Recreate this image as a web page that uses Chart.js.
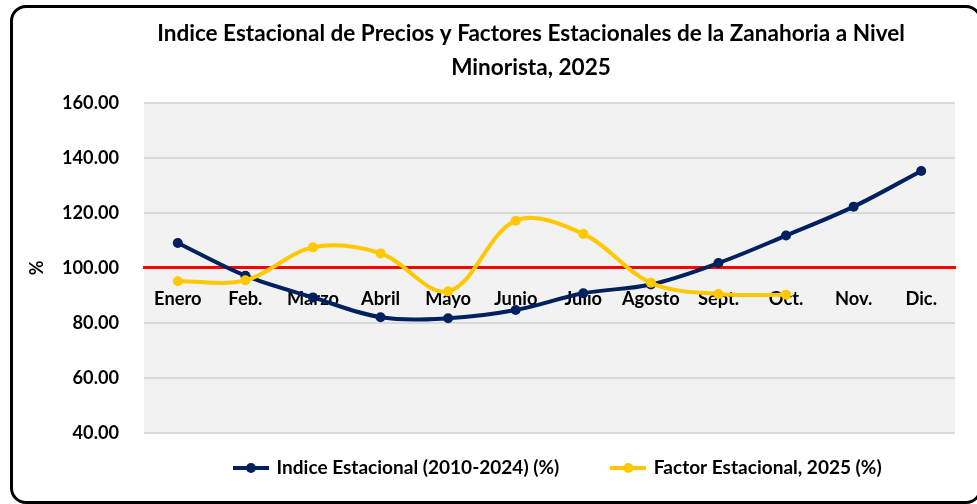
<!DOCTYPE html>
<html>
<head>
<meta charset="utf-8">
<script src="https://cdn.jsdelivr.net/npm/chart.js@4/dist/chart.umd.min.js"></script>
<style>
  html, body { margin: 0; padding: 0; background: #ffffff; }
  #wrap { position: relative; width: 977px; height: 504px; overflow: hidden; }
  #frame { position: absolute; left: 10px; top: 5px; width: 972px; height: 499px; box-sizing: border-box;
           border: 3px solid #000; border-radius: 16px; pointer-events: none; }
</style>
</head>
<body>
<div id="wrap">
  <canvas id="c" width="977" height="504"></canvas>
  <div id="frame"></div>
</div>
<script>
// ---- data ----
const categories = ['Enero', 'Feb.', 'Marzo', 'Abril', 'Mayo', 'Junio', 'Julio', 'Agosto', 'Sept.', 'Oct.', 'Nov.', 'Dic.'];
const indiceEstacional = [109.1, 97.2, 89.3, 82.1, 81.7, 84.7, 90.8, 94.0, 101.8, 111.8, 122.3, 135.3];
const factorEstacional = [95.2, 95.5, 107.5, 105.3, 91.5, 117.2, 112.4, 94.6, 90.5, 90.3, null, null];
const yTicks = [40, 60, 80, 100, 120, 140, 160];
const referenceLevel = 100;
const titleLines = ['Indice Estacional de Precios y Factores Estacionales de la Zanahoria a Nivel', 'Minorista, 2025'];
const seriesLabels = ['Indice Estacional (2010-2024) (%)', 'Factor Estacional, 2025 (%)'];
const yAxisTitle = '%';

// ---- style ----
const FAMILY = "Lato, 'Open Sans', 'DejaVu Sans', sans-serif";
const BLUE = '#002060';
const YELLOW = '#FFC800';
function fitSize(text, target) {
  const ctx = document.createElement('canvas').getContext('2d');
  ctx.font = 'bold 100px ' + FAMILY;
  return 100 * target / ctx.measureText(text).width;
}
const titleSize = fitSize(titleLines[0], 748);
const yTickSize = fitSize('160.00', 57);
const xTickSize = fitSize('Agosto', 58);
const legendSize = fitSize(seriesLabels[0], 283);

function legendIcon(color) {
  const c = document.createElement('canvas');
  c.width = 36; c.height = 12;
  const g = c.getContext('2d');
  g.strokeStyle = color; g.lineWidth = 4;
  g.beginPath(); g.moveTo(0, 6); g.lineTo(36, 6); g.stroke();
  g.fillStyle = color;
  g.beginPath(); g.arc(18, 6, 5, 0, Math.PI * 2); g.fill();
  return c;
}
const icons = [legendIcon(BLUE), legendIcon(YELLOW)];

const plotBackground = {
  id: 'plotBackground',
  beforeDraw(chart) {
    const a = chart.chartArea, ctx = chart.ctx;
    ctx.save();
    ctx.fillStyle = '#F2F2F2';
    ctx.fillRect(a.left, a.top, a.right - a.left, a.bottom - a.top);
    ctx.restore();
  }
};
const boxShift = {
  id: 'boxShift',
  afterLayout(chart) {
    const t = chart.titleBlock;
    if (t) {
      const d = 531 - (t.left + t.right) / 2;
      t.left += d; t.right += d;
    }
    const l = chart.legend;
    if (l && l.lineWidths) {
      const pad = l.options.labels.padding;
      const startX = (l.left + pad + l.right - l.lineWidths[0]) / 2;
      const bw = l.options.labels.pointStyleWidth;
      const markerLeft = startX + bw / 2 - 18;
      const dx = 233 - markerLeft;
      l.left += dx; l.right += dx;
      const itemCenter = l.top + pad + legendSize / 2;
      const dy = 468 - itemCenter;
      l.top += dy; l.bottom += dy;
    }
  }
};

new Chart(document.getElementById('c'), {
  type: 'line',
  data: {
    labels: categories,
    datasets: [
      {
        label: seriesLabels[0],
        data: indiceEstacional,
        borderColor: BLUE,
        backgroundColor: BLUE,
        pointBackgroundColor: BLUE,
        pointBorderColor: BLUE,
        borderWidth: 4,
        pointRadius: 5,
        pointHoverRadius: 5,
        pointBorderWidth: 0,
        tension: 0.35,
        order: 2
      },
      {
        label: seriesLabels[1],
        data: factorEstacional,
        borderColor: YELLOW,
        backgroundColor: YELLOW,
        pointBackgroundColor: YELLOW,
        pointBorderColor: YELLOW,
        borderWidth: 4,
        pointRadius: 5,
        pointHoverRadius: 5,
        pointBorderWidth: 0,
        tension: 0.35,
        order: 1
      }
    ]
  },
  options: {
    responsive: false,
    animation: false,
    devicePixelRatio: 1,
    layout: { padding: { left: 0, right: 22, top: 0, bottom: -11 } },
    plugins: {
      title: {
        display: true,
        text: titleLines,
        color: '#000000',
        font: { family: FAMILY, size: titleSize, weight: 'bold', lineHeight: '34px' },
        padding: { top: 17, bottom: 18 }
      },
      legend: {
        display: true,
        position: 'bottom',
        labels: {
          usePointStyle: true,
          pointStyleWidth: 32,
          padding: 53,
          color: '#000000',
          font: { family: FAMILY, size: legendSize, weight: 'bold' },
          sort: (a, b) => a.datasetIndex - b.datasetIndex,
          generateLabels(chart) {
            const items = Chart.defaults.plugins.legend.labels.generateLabels(chart);
            items.forEach(it => { it.pointStyle = icons[it.datasetIndex]; });
            return items;
          }
        }
      },
      tooltip: { enabled: false }
    },
    scales: {
      x: {
        type: 'category',
        offset: true,
        position: { y: referenceLevel },
        afterFit(s) { s.height = 0; },
        grid: { display: false, drawTicks: false },
        border: { display: true, color: '#FF0000', width: 3 },
        ticks: {
          color: '#000000',
          padding: 20,
          maxRotation: 0,
          autoSkip: false,
          font: { family: FAMILY, size: xTickSize, weight: 'bold' }
        }
      },
      y: {
        min: yTicks[0],
        max: yTicks[yTicks.length - 1],
        afterFit(s) { s.width = 144; },
        afterBuildTicks(s) { s.ticks = yTicks.map(v => ({ value: v })); },
        grid: { color: '#D9D9D9', lineWidth: 2, drawTicks: false },
        border: { display: false },
        ticks: {
          color: '#000000',
          padding: 25,
          font: { family: FAMILY, size: yTickSize, weight: 'bold' },
          callback: v => Number(v).toFixed(2)
        },
        title: {
          display: true,
          text: yAxisTitle,
          color: '#000000',
          font: { family: FAMILY, size: 18, weight: 'bold' },
          padding: { top: 26, bottom: 0 }
        }
      }
    }
  },
  plugins: [plotBackground, boxShift]
});
</script>
</body>
</html>
